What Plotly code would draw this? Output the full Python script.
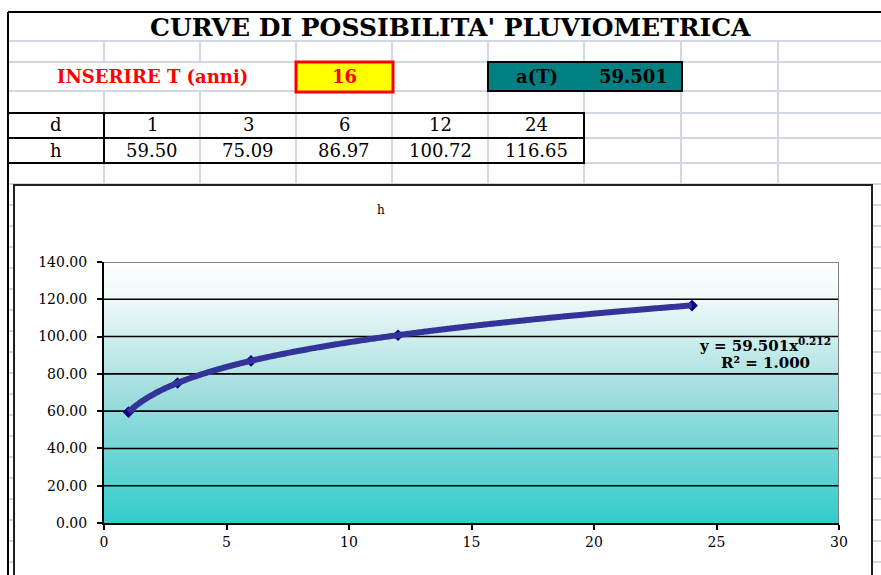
import numpy as np
import plotly.graph_objects as go

# ---- data -------------------------------------------------------------
durations = [1, 3, 6, 12, 24]                      # d (ore)
heights = [59.50, 75.09, 86.97, 100.72, 116.65]    # h (mm)
return_period = 16                                 # T (anni)
a_T = 59.501                                       # coefficiente a(T)
n_exp = 0.212                                      # esponente n

sheet_title = "CURVE DI POSSIBILITA' PLUVIOMETRICA"
input_label = "INSERIRE T (anni)"
chart_title = "h"
row_labels = ["d", "h"]
x_ticks = [0, 5, 10, 15, 20, 25, 30]
y_ticks = [0, 20, 40, 60, 80, 100, 120, 140]

# ---- page geometry (pixels) --------------------------------------------
W, H = 881, 575
SERIF = "DejaVu Serif"
GRID = "#D0D7E5"


def px(x):
    return x / W


def py(y):
    return 1 - y / H


shapes = []
annotations = []


def hline(y, x0, x1, color=GRID, width=2, layer="below"):
    shapes.append(dict(type="line", xref="paper", yref="paper",
                       x0=px(x0), x1=px(x1), y0=py(y), y1=py(y),
                       line=dict(color=color, width=width), layer=layer))


def vline(x, y0, y1, color=GRID, width=2, layer="below"):
    shapes.append(dict(type="line", xref="paper", yref="paper",
                       x0=px(x), x1=px(x), y0=py(y0), y1=py(y1),
                       line=dict(color=color, width=width), layer=layer))


def rect(x0, y0, x1, y1, fill, line, width, layer="below"):
    shapes.append(dict(type="rect", xref="paper", yref="paper",
                       x0=px(x0), x1=px(x1), y0=py(y1), y1=py(y0),
                       fillcolor=fill, line=dict(color=line, width=width),
                       layer=layer))


def text(x, y, s, size, color="black", bold=False, anchor="center"):
    if bold:
        s = "<b>" + s + "</b>"
    annotations.append(dict(xref="paper", yref="paper", x=px(x), y=py(y),
                            text=s, showarrow=False, xanchor=anchor,
                            yanchor="middle",
                            font=dict(family=SERIF, size=size, color=color)))


# spreadsheet grid
row_lines = [41, 62, 91, 113, 138, 163] + [184 + 21 * k for k in range(19)]
for y in row_lines:
    hline(y, 9, W)
col_lines = [104, 200, 296, 392, 488, 584, 681, 778]
for x in col_lines:
    if x in (104, 200):
        # text of the input row overflows across these cells
        vline(x, 41, 62)
        vline(x, 91, 186)
    else:
        vline(x, 41, 186)

# sheet frame
hline(12, 8, W, color="black", width=2)
vline(8, 12, H, color="black", width=2)

# input cell and a(T) cell
rect(296, 62, 393, 92, "#FFFF00", "#FF0000", 3)
rect(488, 62, 682, 91, "#008080", "black", 2)

# table borders
for y in (113, 138, 163):
    hline(y, 8, 585, color="black", width=2)
for x in (104, 584):
    vline(x, 113, 163, color="black", width=2)

# chart frame
rect(14, 185, 872, H + 5, "white", "#202020", 2)

# ---- texts ------------------------------------------------------------
text(451, 27, sheet_title, 25, bold=True)
text(152, 77, input_label, 18, color="#FF0000", bold=True)
text(344, 77, str(return_period), 18, color="#FF0000", bold=True)
text(537, 77, "a(T)", 18, bold=True)
text(633, 77, f"{a_T:.3f}", 18, bold=True)

col_centers = [152, 248, 344, 440, 536]
text(56, 125, row_labels[0], 18)
text(56, 150, row_labels[1], 18)
for cx, d, h in zip(col_centers, durations, heights):
    text(cx, 125, f"{d}", 18)
    text(cx, 150, f"{h:.2f}", 18)

text(381, 210, chart_title, 12)

# power trend  h = a * d^n
d_arr = np.array(durations, dtype=float)
h_arr = np.array(heights, dtype=float)
h_fit = a_T * d_arr ** n_exp
r2 = 1 - np.sum((h_arr - h_fit) ** 2) / np.sum((h_arr - h_arr.mean()) ** 2)
text(765, 345, f"y = {a_T:.3f}x<sup>{n_exp:.3f}</sup>", 15, bold=True)
text(765, 363, f"R² = {r2:.3f}", 15, bold=True)

# ---- traces -----------------------------------------------------------
fig = go.Figure()

x_lo, x_hi = x_ticks[0], x_ticks[-1]
y_lo, y_hi = y_ticks[0], y_ticks[-1]

fig.add_trace(go.Scatter(
    x=[x_lo, x_hi, x_hi, x_lo, x_lo], y=[y_lo, y_lo, y_hi, y_hi, y_lo],
    mode="lines", fill="toself", line=dict(width=0),
    fillgradient=dict(type="vertical",
                      colorscale=[[0, "#33CCCC"], [0.5, "#A2DEDE"],
                                  [0.85, "#EEF8F8"], [1, "#FFFFFF"]]),
    hoverinfo="skip", showlegend=False))

gx, gy = [], []
for v in y_ticks[1:-1]:
    gx += [x_lo, x_hi, None]
    gy += [v, v, None]
fig.add_trace(go.Scatter(x=gx, y=gy, mode="lines",
                         line=dict(color="black", width=1.6),
                         hoverinfo="skip", showlegend=False))

fig.add_trace(go.Scatter(x=durations, y=heights, mode="markers",
                         marker=dict(symbol="diamond", size=9,
                                     color="#000080"),
                         showlegend=False))

d_line = np.linspace(min(durations), max(durations), 400)
fig.add_trace(go.Scatter(x=d_line, y=a_T * d_line ** n_exp, mode="lines",
                         line=dict(color="#333399", width=6, simplify=False),
                         hoverinfo="skip", showlegend=False))

# plot-area border (top and right)
shapes.append(dict(type="line", xref="x", yref="y", x0=x_lo, x1=x_hi,
                   y0=y_hi, y1=y_hi, line=dict(color="#808080", width=2),
                   layer="above"))
shapes.append(dict(type="line", xref="x", yref="y", x0=x_hi, x1=x_hi,
                   y0=y_lo, y1=y_hi, line=dict(color="#808080", width=2),
                   layer="above"))

axis_common = dict(showgrid=False, zeroline=False, showline=True,
                   linecolor="black", linewidth=2, ticks="outside",
                   ticklen=5, tickwidth=2, tickcolor="black",
                   tickfont=dict(family=SERIF, size=14, color="black"),
                   automargin=False)

fig.update_layout(
    width=W, height=H,
    margin=dict(l=0, r=0, t=0, b=0),
    paper_bgcolor="white", plot_bgcolor="rgba(0,0,0,0)",
    font=dict(family=SERIF),
    xaxis=dict(domain=[px(104), px(839)], range=[x_lo, x_hi],
               tickvals=x_ticks, **axis_common),
    yaxis=dict(domain=[py(523), py(262)], range=[y_lo, y_hi],
               tickvals=y_ticks, tickformat=".2f", ticklabelstandoff=7,
               **axis_common),
    shapes=shapes, annotations=annotations,
)

fig.write_html("out.html")
